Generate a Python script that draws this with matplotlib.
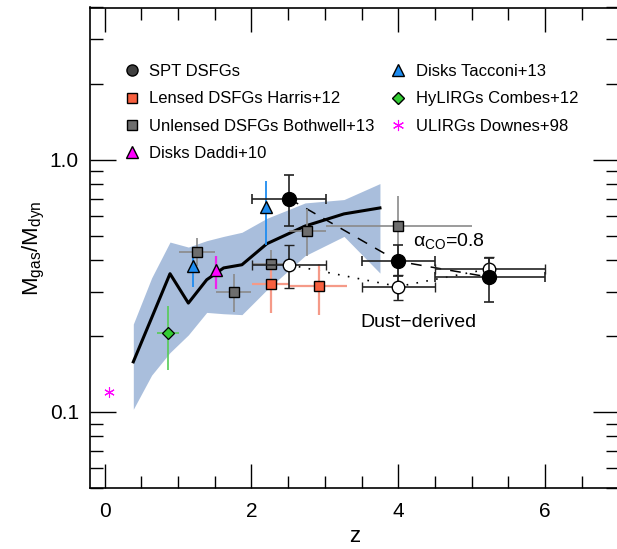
# Gas fraction M_gas/M_dyn versus redshift, SPT DSFGs vs literature samples

import numpy as np
import matplotlib.pyplot as plt
from matplotlib.lines import Line2D
from matplotlib.ticker import FixedLocator, LogLocator, MultipleLocator, NullFormatter

plt.rcParams['font.family'] = ['Liberation Sans', 'DejaVu Sans']
plt.rcParams['mathtext.fontset'] = 'custom'
plt.rcParams['mathtext.rm'] = 'Liberation Sans'
plt.rcParams['mathtext.it'] = 'Liberation Sans'

# model trend (binned) with its spread
z_model = [0.39, 0.64, 0.89, 1.14, 1.39, 1.62, 1.87, 2.21, 2.73, 3.26, 3.75]
f_model = [0.158, 0.236, 0.353, 0.270, 0.334, 0.372, 0.383, 0.464, 0.545, 0.609, 0.643]
f_model_hi = [0.223, 0.34, 0.471, 0.450, 0.477, 0.496, 0.515, 0.585, 0.673, 0.694, 0.803]
f_model_lo = [0.1025, 0.14, 0.172, 0.202, 0.248, 0.245, 0.243, 0.305, 0.416, 0.496, 0.355]

# SPT DSFGs, CO-derived (alpha_CO = 0.8)
z_spt = [2.51, 4.00, 5.24]
z_spt_lo = [2.01, 3.51, 4.50]
z_spt_hi = [3.01, 4.50, 6.00]
f_spt = [0.70, 0.395, 0.342]
f_spt_hi = [0.866, 0.46, 0.407]
f_spt_lo = [0.544, 0.346, 0.272]

# SPT DSFGs, dust-derived
f_dust = [0.383, 0.314, 0.369]
f_dust_hi = [0.46, 0.35, 0.41]
f_dust_lo = [0.31, 0.277, 0.33]

# Unlensed DSFGs Bothwell+13
z_both = [1.26, 1.76, 2.26, 2.76, 4.00]
z_both_lo = [1.01, 1.52, 2.01, 2.51, 3.01]
z_both_hi = [1.50, 2.00, 2.51, 3.01, 5.00]
f_both = [0.429, 0.298, 0.386, 0.52, 0.547]
f_both_hi = [0.489, 0.352, 0.44, 0.634, 0.715]
f_both_lo = [0.377, 0.248, 0.34, 0.414, 0.28]

# Lensed DSFGs Harris+12
z_harris = [2.26, 2.92]
z_harris_lo = [2.01, 2.51]
z_harris_hi = [2.51, 3.30]
f_harris = [0.322, 0.316]
f_harris_hi = [0.401, 0.385]
f_harris_lo = [0.246, 0.243]

# Disks Tacconi+13
z_tac = [1.21, 2.20]
f_tac = [0.38, 0.647]
f_tac_hi = [0.407, 0.825]
f_tac_lo = [0.312, 0.46]

# Disks Daddi+10
z_daddi = [1.51]
f_daddi = [0.366]
f_daddi_hi = [0.416]
f_daddi_lo = [0.308]

# HyLIRGs Combes+12
z_combes = [0.86]
z_combes_lo = [0.71]
z_combes_hi = [1.01]
f_combes = [0.205]
f_combes_hi = [0.262]
f_combes_lo = [0.147]

# ULIRGs Downes+98
z_downes = [0.06]
f_downes = [0.12]


def errs(val, lo, hi):
    val, lo, hi = np.array(val), np.array(lo), np.array(hi)
    return [val - lo, hi - val]


fig = plt.figure(figsize=(6.17, 5.49), dpi=100)
# right spine sits just past the image edge, as in the original
ax = fig.add_axes([90 / 617, 1 - 488 / 549, 528.5 / 617, 480.5 / 549])

# band + trend line
ax.fill_between(z_model, f_model_lo, f_model_hi, color='#a9bedc', lw=0, zorder=1)
ax.plot(z_model, f_model, color='k', lw=2.2, zorder=2)

# connecting lines for SPT points
ax.plot(z_spt, f_spt, color='k', lw=1.1, ls=(0, (7, 6)), zorder=3)
ax.plot(z_spt, f_dust, color='k', lw=1.2, ls=(0, (1, 5)), zorder=3)

# literature samples
ax.errorbar(z_both, f_both, xerr=errs(z_both, z_both_lo, z_both_hi),
            yerr=errs(f_both, f_both_lo, f_both_hi), fmt='s', ms=7.5,
            mfc='#6e6e6e', mec='k', mew=1.0, ecolor='#8a8a8a', elinewidth=1.2,
            zorder=4)
ax.errorbar(z_harris, f_harris, xerr=errs(z_harris, z_harris_lo, z_harris_hi),
            yerr=errs(f_harris, f_harris_lo, f_harris_hi), fmt='s', ms=7.5,
            mfc='#f7603f', mec='k', mew=1.0, ecolor='#f59a88', elinewidth=1.6,
            zorder=4)
ax.errorbar(z_tac, f_tac, yerr=errs(f_tac, f_tac_lo, f_tac_hi), fmt='^', ms=9,
            mfc='#1e8cf0', mec='k', mew=1.0, ecolor='#1e8cf0', elinewidth=1.3,
            zorder=4)
ax.errorbar(z_daddi, f_daddi, yerr=errs(f_daddi, f_daddi_lo, f_daddi_hi), fmt='^',
            ms=9, mfc='#ff00ff', mec='k', mew=1.0, ecolor='#ee22ee', elinewidth=1.6,
            zorder=4)
ax.errorbar(z_combes, f_combes, xerr=errs(z_combes, z_combes_lo, z_combes_hi),
            yerr=errs(f_combes, f_combes_lo, f_combes_hi), fmt='D', ms=6,
            mfc='#33cc33', mec='k', mew=0.9, ecolor='#55cc55', elinewidth=1.2,
            zorder=4)
ax.plot(z_downes, f_downes, ls='none', marker=(6, 2, 0), ms=7.5, mec='#ff00ff',
        mew=0.8, zorder=4)

# SPT DSFGs
ax.errorbar(z_spt, f_dust, xerr=errs(z_spt, z_spt_lo, z_spt_hi),
            yerr=errs(f_dust, f_dust_lo, f_dust_hi), fmt='o', ms=9,
            mfc='white', mec='k', mew=1.0, ecolor='#222222', elinewidth=1.2,
            capsize=3.5, capthick=1.2, zorder=5)
ax.errorbar(z_spt, f_spt, xerr=errs(z_spt, z_spt_lo, z_spt_hi),
            yerr=errs(f_spt, f_spt_lo, f_spt_hi), fmt='o', ms=10,
            mfc='k', mec='k', ecolor='#222222', elinewidth=1.2,
            capsize=3.5, capthick=1.2, zorder=6)

ax.text(4.2, 0.477, r'$\alpha_{\rm CO}$=0.8', fontsize=14, ha='left', va='center')
ax.text(4.27, 0.2255, 'Dust\u2212derived', fontsize=14, ha='center', va='center')

# axes, log scale and ticks
ax.set_yscale('log')
ax.set_xlim(-0.2, 7)
ax.set_ylim(0.05, 4)
ax.xaxis.set_major_locator(MultipleLocator(2))
ax.xaxis.set_minor_locator(MultipleLocator(0.5))
ax.yaxis.set_major_locator(FixedLocator([0.1, 1.0]))
ax.yaxis.set_major_formatter(plt.FixedFormatter(['0.1', '1.0']))
ax.yaxis.set_minor_locator(LogLocator(base=10, subs=np.arange(2, 10)))
ax.yaxis.set_minor_formatter(NullFormatter())
ax.tick_params(which='both', direction='in', top=True, right=True, width=1.0,
               labelsize=15, colors='k')
ax.tick_params(axis='y', which='major', length=19, pad=8)
ax.tick_params(axis='y', which='minor', length=9.5)
ax.tick_params(axis='x', which='major', length=17, pad=10)
ax.tick_params(axis='x', which='minor', length=8.5)
for s in ax.spines.values():
    s.set_linewidth(1.2)

ax.set_xlabel('z', fontsize=16, labelpad=4)
ax.set_ylabel(r'M$_{\rm gas}$/M$_{\rm dyn}$', fontsize=16, labelpad=2)

# legend, two columns
h1 = [Line2D([], [], ls='none', marker='o', ms=8, mfc='#404040', mec='k'),
      Line2D([], [], ls='none', marker='s', ms=7, mfc='#f7603f', mec='k'),
      Line2D([], [], ls='none', marker='s', ms=7, mfc='#6e6e6e', mec='k'),
      Line2D([], [], ls='none', marker='^', ms=9, mfc='#ff00ff', mec='k')]
l1 = ['SPT DSFGs', 'Lensed DSFGs Harris+12', 'Unlensed DSFGs Bothwell+13',
      'Disks Daddi+10']
h2 = [Line2D([], [], ls='none', marker='^', ms=9, mfc='#1e8cf0', mec='k'),
      Line2D([], [], ls='none', marker='D', ms=6, mfc='#33cc33', mec='k'),
      Line2D([], [], ls='none', marker=(6, 2, 0), ms=8, mec='#ff00ff', mew=0.8)]
l2 = ['Disks Tacconi+13', 'HyLIRGs Combes+12', 'ULIRGs Downes+98']

leg_kw = dict(loc='upper left', frameon=False, fontsize=12, handlelength=1.0,
              handletextpad=0.55, labelspacing=0.74, borderpad=0,
              borderaxespad=0, bbox_transform=fig.transFigure)
leg1 = ax.legend(h1, l1, bbox_to_anchor=(123.5 / 617, 1 - 64 / 549), **leg_kw)
ax.add_artist(leg1)
ax.legend(h2, l2, bbox_to_anchor=(390 / 617, 1 - 64 / 549), **leg_kw)

fig.savefig('out.png', dpi=100)
